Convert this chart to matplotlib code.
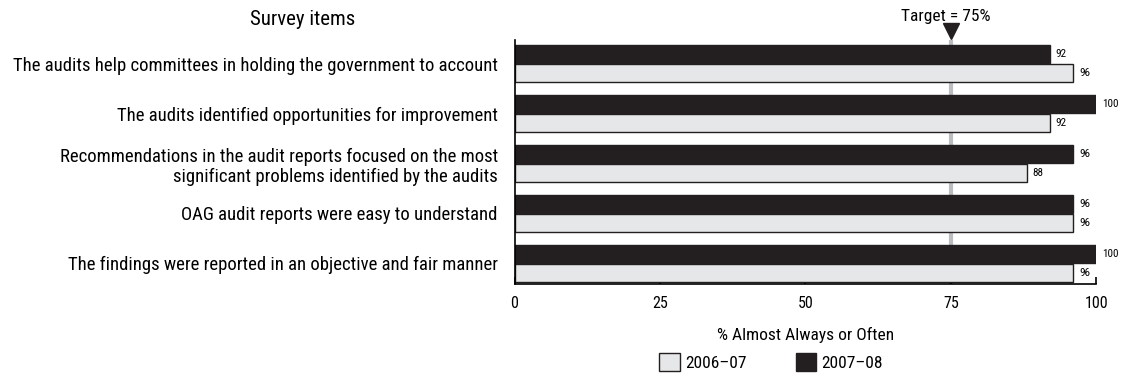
import matplotlib
matplotlib.use('Agg')
import matplotlib.pyplot as plt
import numpy as np
from matplotlib.patches import Patch

plt.rcParams['font.family'] = ['Roboto Condensed', 'DejaVu Sans']

items = [
    'The audits help committees in holding the government to account',
    'The audits identified opportunities for improvement',
    'Recommendations in the audit reports focused on the most\nsignificant problems identified by the audits',
    'OAG audit reports were easy to understand',
    'The findings were reported in an objective and fair manner',
]
vals_0607 = [96, 92, 88, 96, 96]
vals_0708 = [92, 100, 96, 96, 100]
target = 75

dark = '#231f20'
light = '#e6e7e8'

fig = plt.figure(figsize=(11.21, 3.79), dpi=100)
ax = fig.add_axes([0.459, 0.251, 0.519, 0.643])

n = len(items)
ypos = np.arange(n)[::-1]
h = 0.36
off = 0.19

ax.axvline(target, color='#bcbdc0', lw=3, zorder=0)
ax.barh(ypos + off, vals_0708, height=h, color=dark, edgecolor=dark, lw=1, zorder=2)
ax.barh(ypos - off, vals_0607, height=h, color=light, edgecolor=dark, lw=1, zorder=2)

for y, v in zip(ypos + off, vals_0708):
    ax.text(v + 1, y, str(v), fontsize=8, va='center', ha='left')
for y, v in zip(ypos - off, vals_0607):
    ax.text(v + 1, y, str(v), fontsize=8, va='center', ha='left')

top = n - 1 + 0.47
ax.set_xlim(0, 100)
ax.set_ylim(-0.41, top)
ax.set_xticks([0, 25, 50, 75, 100])
ax.tick_params(axis='x', direction='in', length=5, width=1.2, labelsize=11.5, pad=9)
ax.set_yticks(ypos)
ax.set_yticklabels(items, fontsize=13.5, linespacing=1.15)
ax.tick_params(axis='y', length=0, pad=12)
for s in ['top', 'right']:
    ax.spines[s].set_visible(False)
for s in ['left', 'bottom']:
    ax.spines[s].set_linewidth(1.2)

ax.set_xlabel('% Almost Always or Often', fontsize=12.5, labelpad=11)

# target marker sits just above the plot area, label above it
ax.plot([target], [top + 0.18], marker='v', color=dark, markersize=11, clip_on=False, zorder=5)
ax.text(target - 0.8, top + 0.33, 'Target = 75%', fontsize=12.5, ha='center', va='bottom')

fig.text(0.317, 0.948, 'Survey items', fontsize=15, ha='right', va='center')

handles = [Patch(facecolor=light, edgecolor=dark, label='2006–07'),
           Patch(facecolor=dark, edgecolor=dark, label='2007–08')]
fig.legend(handles=handles, loc='center', bbox_to_anchor=(0.688, 0.045), ncol=2,
           frameon=False, fontsize=12.5, handlelength=1.2, handleheight=1.2,
           handletextpad=0.3, columnspacing=2.8)

fig.savefig('out.png', dpi=100)
